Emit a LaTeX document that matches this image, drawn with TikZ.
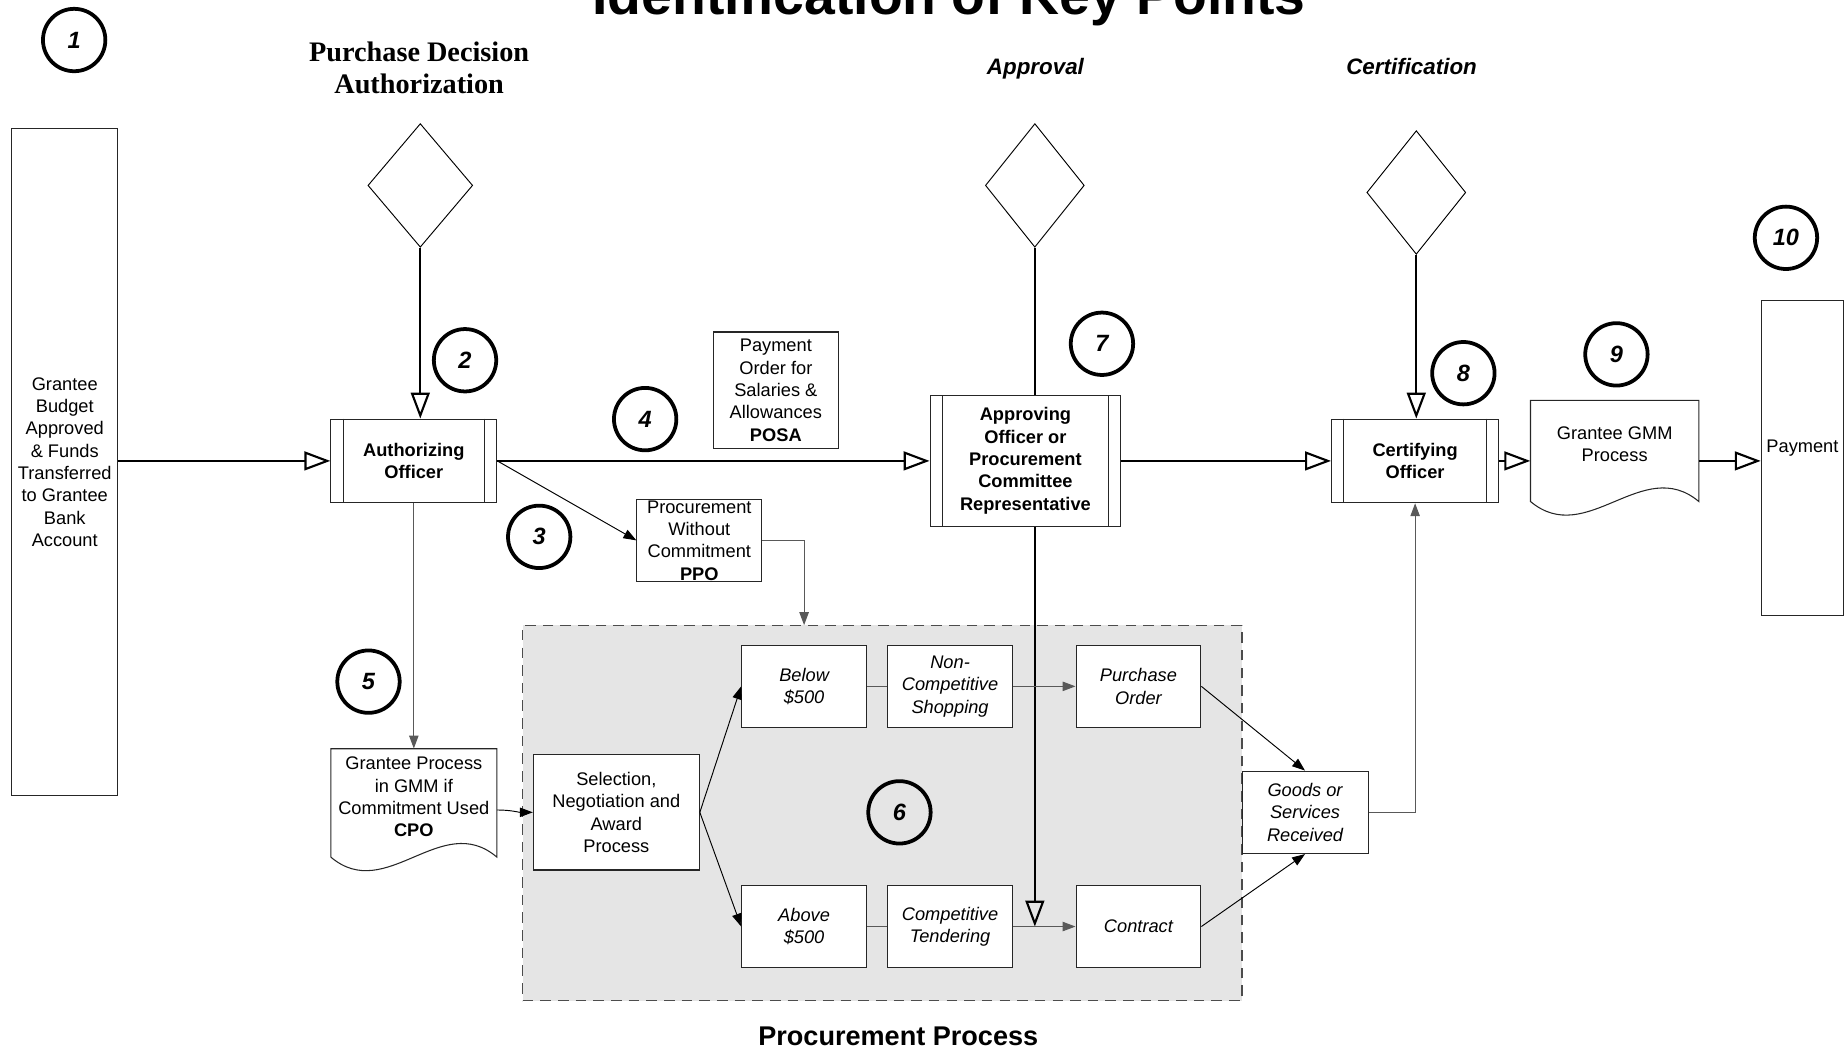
\documentclass[tikz,border=0pt]{standalone}
\usepackage{fontspec}
\setmainfont{Liberation Sans}
\newfontfamily\tnrfont{Liberation Serif}
\usetikzlibrary{arrows.meta,shapes.geometric,calc}
\newcommand\fbody{\fontsize{15.5}{19}\selectfont}
\begin{document}
\begin{tikzpicture}[x=1pt,y=-1pt,
  box/.style={draw=black!85, line width=0.9pt, fill=white, align=center, font=\fbody, inner sep=0pt},
  ibox/.style={box, font=\fbody\itshape, minimum width=106pt, minimum height=70pt},
  bbox/.style={box, font=\fbody\bfseries},
  plain/.style={align=center, font=\fbody, inner sep=0pt},
  boxline/.style={draw=black!85, line width=0.9pt},
  num/.style={circle, draw=black, line width=3.2pt, minimum size=53pt, inner sep=0pt, font=\fontsize{20}{20}\selectfont\bfseries\itshape},
  dia/.style={diamond, draw=black, line width=0.8pt, inner sep=0pt, minimum height=105pt},
  bigarrow/.style={line width=2pt, -{Triangle[open, length=22pt, width=16pt, line width=1.8pt]}},
  thinarrow/.style={line width=0.8pt, -{Triangle[length=11pt, width=8pt]}},
  greyline/.style={draw=black!65, line width=0.9pt},
  head/.style={font=\fontsize{19}{19}\selectfont\bfseries\itshape, anchor=base, inner sep=0pt},
  serifhead/.style={font=\tnrfont\bfseries\fontsize{24}{27.6}\selectfont, anchor=base, inner sep=0pt}
]
\useasboundingbox (0,0) rectangle (1568,892.7);

% procurement area
\node[fill=black!10, draw=black!70, line width=1pt, dash pattern=on 9pt off 6pt,
      minimum width=611pt, minimum height=319pt, inner sep=0pt] (proc) at (749.5,690.5) {};
\node[font=\fontsize{23}{23}\selectfont\bfseries, anchor=base, inner sep=0pt] (proctitle) at (763,888) {Procurement Process};

% title and headings
\node[font=\fontsize{47}{47}\selectfont\bfseries, anchor=base, inner sep=0pt] (title) at (806,12) {Identification of Key Points};
\node[serifhead] (h1a) at (356,52) {Purchase Decision};
\node[serifhead] (h1b) at (356,79.6) {Authorization};
\node[head] (h2) at (879.5,63) {Approval};
\node[head] (h3) at (1199,63) {Certification};

% diamonds
\node[dia, minimum width=89pt] (d1) at (357,157.5) {};
\node[dia, minimum width=84pt] (d2) at (879,157.5) {};
\node[dia, minimum width=84pt] (d3) at (1203,163.5) {};

% document shapes
\draw[boxline] (281,636) -- (281,728) .. controls (328,768) and (375,688) .. (422,728) -- (422,636) -- cycle;
\draw[boxline] (1300,340) -- (1300,426) .. controls (1347.7,466) and (1395.3,386) .. (1443,426) -- (1443,340) -- cycle;

% boxes
\node[box, minimum width=90pt, minimum height=567pt] (bank) at (55,392.5)
  {Grantee\\Budget\\Approved\\\& Funds\\Transferred\\to Grantee\\Bank\\Account};
\node[bbox, minimum width=141pt, minimum height=71pt] (auth) at (351.5,391.5) {Authorizing\\Officer};
\node[box, minimum width=106pt, minimum height=99pt] (posa) at (659,331.5)
  {Payment\\Order for\\Salaries \&\\Allowances\\\textbf{POSA}};
\node[bbox, minimum width=162pt, minimum height=111pt] (appr) at (871,391.5)
  {Approving\\Officer or\\Procurement\\Committee\\Representative};
\node[bbox, minimum width=142pt, minimum height=71pt] (cert) at (1202,391.5) {Certifying\\Officer};
\node[plain, minimum width=143pt, minimum height=75pt] (gmm) at (1371.5,377.5) {Grantee GMM\\Process};
\node[box, minimum width=70pt, minimum height=268pt] (pay) at (1531,389) {};
\node[plain] (paytext) at (1531,381) {Payment};
\node[box, minimum width=106pt, minimum height=70pt] (ppo) at (594,459)
  {Procurement\\Without\\Commitment\\\textbf{PPO}};
\node[plain, minimum width=141pt, minimum height=82pt] (cpo) at (351.5,677)
  {Grantee Process\\in GMM if\\Commitment Used\\\textbf{CPO}};
\node[box, minimum width=141pt, minimum height=98pt] (sel) at (523.5,690)
  {Selection,\\Negotiation and\\Award\\Process};
\node[ibox] (below) at (683,583) {Below\\\$500};
\node[ibox] (nc) at (807,583) {Non-\\Competitive\\Shopping};
\node[ibox] (po) at (967,583) {Purchase\\Order};
\node[ibox] (above) at (683,787) {Above\\\$500};
\node[ibox] (comp) at (807,787) {Competitive\\Tendering};
\node[ibox] (contract) at (967,787) {Contract};
\node[ibox, minimum width=107pt] (goods) at (1108.5,690) {Goods or\\Services\\Received};

% predefined-process side bars
\foreach \n in {auth,appr,cert}{
  \draw[boxline] ([xshift=11pt]\n.north west) -- ([xshift=11pt]\n.south west);
  \draw[boxline] ([xshift=-11pt]\n.north east) -- ([xshift=-11pt]\n.south east);
}

% number circles
\node[num] (n1) at (63,34) {1};
\node[num] (n2) at (395,306) {2};
\node[num] (n3) at (458,456) {3};
\node[num] (n4) at (548,356) {4};
\node[num] (n5) at (313,579) {5};
\node[num] (n6) at (764,690) {6};
\node[num] (n7) at (936,292) {7};
\node[num] (n8) at (1243,317) {8};
\node[num] (n9) at (1373,301) {9};
\node[num] (n10) at (1517,202) {10};

% main flow
\draw[bigarrow] (bank.east |- auth.west) -- (auth.west);
\draw[bigarrow] (d1.south) -- (d1.south |- auth.north);
\draw[bigarrow] (auth.east) -- (appr.west);
\draw[line width=2pt] (d2.south) -- (d2.south |- appr.north);
\draw[bigarrow] (d2.south |- appr.south) -- (d2.south |- contract.west);
\draw[bigarrow] (appr.east |- cert.west) -- (cert.west);
\draw[bigarrow] (d3.south) -- (d3.south |- cert.north);
\draw[bigarrow, line width=1.5pt] (cert.east) -- (cert.east -| gmm.west);
\draw[bigarrow] (cert.east -| gmm.east) -- (cert.east -| pay.west);

% thin connectors
\coordinate (pin) at (683,531);
\draw[thinarrow] (auth.east) -- (ppo.west);
\draw[thinarrow, greyline] (ppo.east) -| (pin);
\draw[thinarrow, greyline] (auth.south) -- (cpo.north);
\draw[thinarrow] ([yshift=-11pt]cpo.east) to[out=0,in=180] (sel.west);
\draw[thinarrow] (sel.east) -- (below.west);
\draw[thinarrow] (sel.east) -- (above.west);
\draw[greyline] (below.east) -- (nc.west);
\draw[thinarrow, greyline] (nc.east) -- (po.west);
\draw[greyline] (above.east) -- (comp.west);
\draw[thinarrow, greyline] (comp.east) -- (contract.west);
\draw[thinarrow] (po.east) -- (goods.north);
\draw[thinarrow] (contract.east) -- (goods.south);
\draw[thinarrow, greyline] (goods.east) -| (cert.south);
\end{tikzpicture}
\end{document}
